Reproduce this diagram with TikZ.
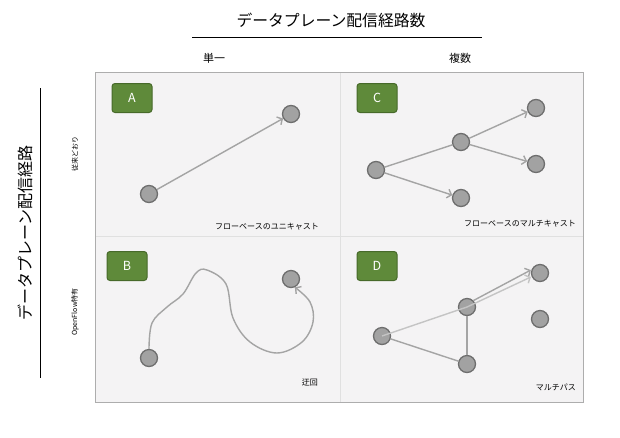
\documentclass[tikz,border=0pt]{standalone}
\usepackage{fontspec}
\setmainfont{Noto Sans CJK JP}
\usetikzlibrary{positioning,arrows.meta}
\definecolor{badgegreen}{HTML}{5F8A3A}
\definecolor{badgeborder}{HTML}{476A2A}
\definecolor{nodefill}{HTML}{A2A2A2}
\definecolor{nodeborder}{HTML}{6E6E6E}
\definecolor{flowgray}{HTML}{A4A4A4}
\definecolor{lightflow}{HTML}{C4C4C4}
\definecolor{panelbg}{HTML}{F4F3F4}
\tikzstyle{hostnode} = [circle, draw=nodeborder, fill=nodefill, line width=1.3pt,
    minimum size=17pt, inner sep=0pt]
\tikzstyle{badge} = [draw=badgeborder, fill=badgegreen, text=white, rounded corners=3pt,
    line width=1pt, minimum width=40pt, minimum height=29pt, font=\fontsize{12.5}{14}\selectfont]
\tikzstyle{flow} = [draw=flowgray, line width=1.4pt,
    -{Straight Barb[length=4pt,width=9pt,line width=1.4pt]}]
\tikzstyle{caption} = [font=\fontsize{8}{9}\selectfont, inner sep=0pt, anchor=east]
\tikzstyle{axislabel} = [font=\fontsize{11}{13}\selectfont, inner sep=0pt]
\tikzstyle{rowlabel} = [font=\fontsize{7}{8}\selectfont, inner sep=0pt, rotate=90]

\begin{document}
\begin{tikzpicture}[x=1pt, y=-1pt]
\useasboundingbox (0,0) rectangle (620,437);

% titles
\node [font=\fontsize{15.8}{18}\selectfont] (coltitle) at (331,20) {データプレーン配信経路数};
\coordinate (colrule-l) at (192,37);
\coordinate (colrule-r) at (482,37);
\draw (colrule-l) -- (colrule-r);
\node [font=\fontsize{16}{18}\selectfont, rotate=90] (rowtitle) at (25,233) {データプレーン配信経路};
\coordinate (rowrule-t) at (40,88);
\coordinate (rowrule-b) at (40,378);
\draw (rowrule-t) -- (rowrule-b);

\node [axislabel] (single) at (214,58) {単一};
\node [axislabel] (multi) at (460,58) {複数};
\node [rowlabel] (legacy) at (75,154) {従来どおり};
\node [rowlabel] (ofonly) at (75,312) {OpenFlow特有};

% grid
\coordinate (grid-nw) at (95,72);
\coordinate (grid-se) at (583,402);
\fill [panelbg] (grid-nw) rectangle (grid-se);
\draw [color=black!12] (340,72) -- (340,402);
\draw [color=black!12] (95,236) -- (583,236);
\draw [color=black!32] (grid-nw) rectangle (grid-se);

% A
\node [badge] (badgeA) at (132,98) {A};
\node [hostnode] (a1) at (149,194) {};
\node [hostnode] (a2) at (291,114) {};
\draw [flow] (a1) -- (a2);
\node [caption] (capA) at (319,227) {フローベースのユニキャスト};

% C
\node [badge] (badgeC) at (377,98) {C};
\node [hostnode] (c1) at (376,170) {};
\node [hostnode] (c2) at (461,142) {};
\node [hostnode] (c3) at (536,108) {};
\node [hostnode] (c4) at (536,164) {};
\node [hostnode] (c5) at (461,198) {};
\draw [flow, -] (c1) -- (c2);
\draw [flow] (c2) -- (c3);
\draw [flow] (c2) -- (c4);
\draw [flow] (c1) -- (c5);
\node [caption] (capC) at (576,224) {フローベースのマルチキャスト};

% B
\node [badge] (badgeB) at (127,266) {B};
\node [hostnode] (b1) at (149,358) {};
\node [hostnode] (b2) at (291,279) {};
\draw [flow] plot [smooth, tension=0.6] coordinates {(b1.north) (152,323) (167,307)
    (183,294) (196,273) (207,270) (226,284) (233,318) (250,342) (277,353) (302,342)
    (313,322) (310,302) (b2.-65)};
\node [caption] (capB) at (318,382) {迂回};

% D
\node [badge] (badgeD) at (377,266) {D};
\node [hostnode] (d1) at (382,336) {};
\node [hostnode] (d2) at (467,307) {};
\node [hostnode] (d3) at (540,273) {};
\node [hostnode] (d4) at (540,319) {};
\node [hostnode] (d5) at (467,364) {};
\draw [flow, -] (d1) -- (d5);
\draw [flow, -] (d5) -- (d2);
\draw [flow] (d2.north east) -- ([yshift=3pt]d3.west);
\draw [flow, draw=lightflow] (d1.center) -- (d2.center) -- ([yshift=-4pt]d3.west);
\node [caption] (capD) at (576,387) {マルチパス};

\end{tikzpicture}
\end{document}
